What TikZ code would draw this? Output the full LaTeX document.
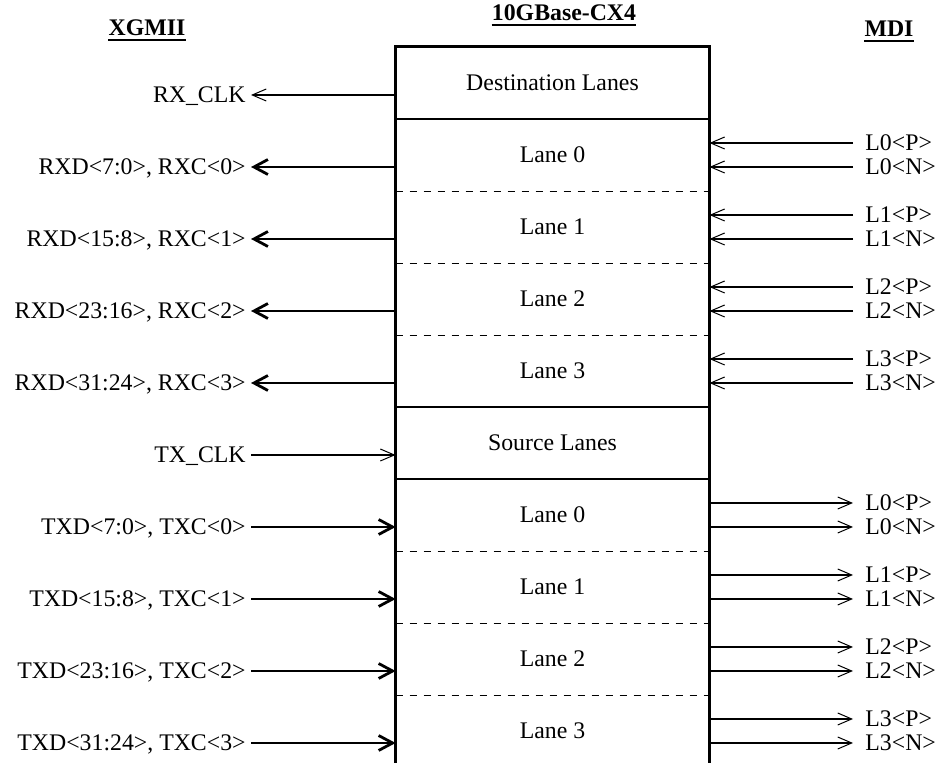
\documentclass[tikz,border=0pt]{standalone}
\usepackage{fontspec}
\setmainfont{Liberation Serif}
\usetikzlibrary{arrows.meta}

\tikzset{
  title/.style={anchor=base, inner sep=0pt, font=\fontsize{11.9}{14}\selectfont\bfseries},
  lane/.style={minimum width=156.5pt, minimum height=36pt, inner sep=0pt},
  lsig/.style={anchor=east, inner sep=2.5pt, text height=8pt, text depth=0pt},
  rsig/.style={anchor=west, inner sep=6pt, text height=8pt, text depth=0pt},
  box/.style={line width=1.5pt},
  sep/.style={line width=1.1pt},
  lanesep/.style={line width=0.8pt, dash pattern=on 3.5pt off 3.5pt},
  wire/.style={line width=1pt},
  thinhead/.style={-{Straight Barb[length=7pt, width=6pt, line width=0.5pt]}},
  bighead/.style={-{Straight Barb[length=7pt, width=7.5pt, line width=1.4pt]}}
}

\begin{document}
\begin{tikzpicture}[x=0.5pt, y=-0.5pt, font=\fontsize{11.9}{14}\selectfont]
  \useasboundingbox (0,0) rectangle (939,763);

  \node[title] (xgmii) at (147,36) {XGMII};
  \node[title] (phy) at (564,21) {10GBase-CX4};
  \node[title] (mdi) at (889,37) {MDI};
  % heading underlines
  \foreach \n in {xgmii,phy,mdi}
    \draw[line width=1pt] ([yshift=-1.6pt]\n.south west) -- ([yshift=-1.6pt]\n.south east);

  % receive half
  \node[lane] (dst) at (552.5,83) {Destination Lanes};
  \foreach \i in {0,...,3}
    \node[lane] (dst\i) at (552.5,{155+72*\i}) {Lane \i};
  % transmit half
  \node[lane] (src) at (552.5,443) {Source Lanes};
  \foreach \i in {0,...,3}
    \node[lane] (src\i) at (552.5,{515+72*\i}) {Lane \i};

  \foreach \n in {dst0,dst1,dst2,src0,src1,src2}
    \draw[lanesep] (\n.south west) -- (\n.south east);
  \foreach \n in {dst,dst3,src}
    \draw[sep] (\n.south west) -- (\n.south east);
  \draw[box] (src3.south west) -- (dst.north west) -- (dst.north east) -- (src3.south east);

  % clocks
  \node[lsig] (rxclk) at (251,95) {RX\_CLK};
  \draw[wire, thinhead] ([yshift=-6pt]dst.west) -- (rxclk);
  \node[lsig] (txclk) at (251,455) {TX\_CLK};
  \draw[wire, thinhead] (txclk) -- ([yshift=-6pt]src.west);

  % data lanes, XGMII side and MDI pairs
  \foreach \i/\hi/\lo in {0/7/0,1/15/8,2/23/16,3/31/24} {
    \node[lsig] (rxd\i) at (251,{167+72*\i}) {RXD<\hi:\lo>, RXC<\i>};
    \draw[wire, bighead] ([yshift=-6pt]dst\i.west) -- (rxd\i);
    \node[lsig] (txd\i) at (251,{527+72*\i}) {TXD<\hi:\lo>, TXC<\i>};
    \draw[wire, bighead] (txd\i) -- ([yshift=-6pt]src\i.west);

    \node[rsig] (rxp\i) at (853,{143+72*\i}) {L\i<P>};
    \node[rsig] (rxn\i) at (853,{167+72*\i}) {L\i<N>};
    \draw[wire, thinhead] (rxp\i) -- ([yshift=6pt]dst\i.east);
    \draw[wire, thinhead] (rxn\i) -- ([yshift=-6pt]dst\i.east);
    \node[rsig] (txp\i) at (853,{503+72*\i}) {L\i<P>};
    \node[rsig] (txn\i) at (853,{527+72*\i}) {L\i<N>};
    \draw[wire, thinhead] ([yshift=6pt]src\i.east) -- (txp\i);
    \draw[wire, thinhead] ([yshift=-6pt]src\i.east) -- (txn\i);
  }
\end{tikzpicture}
\end{document}
